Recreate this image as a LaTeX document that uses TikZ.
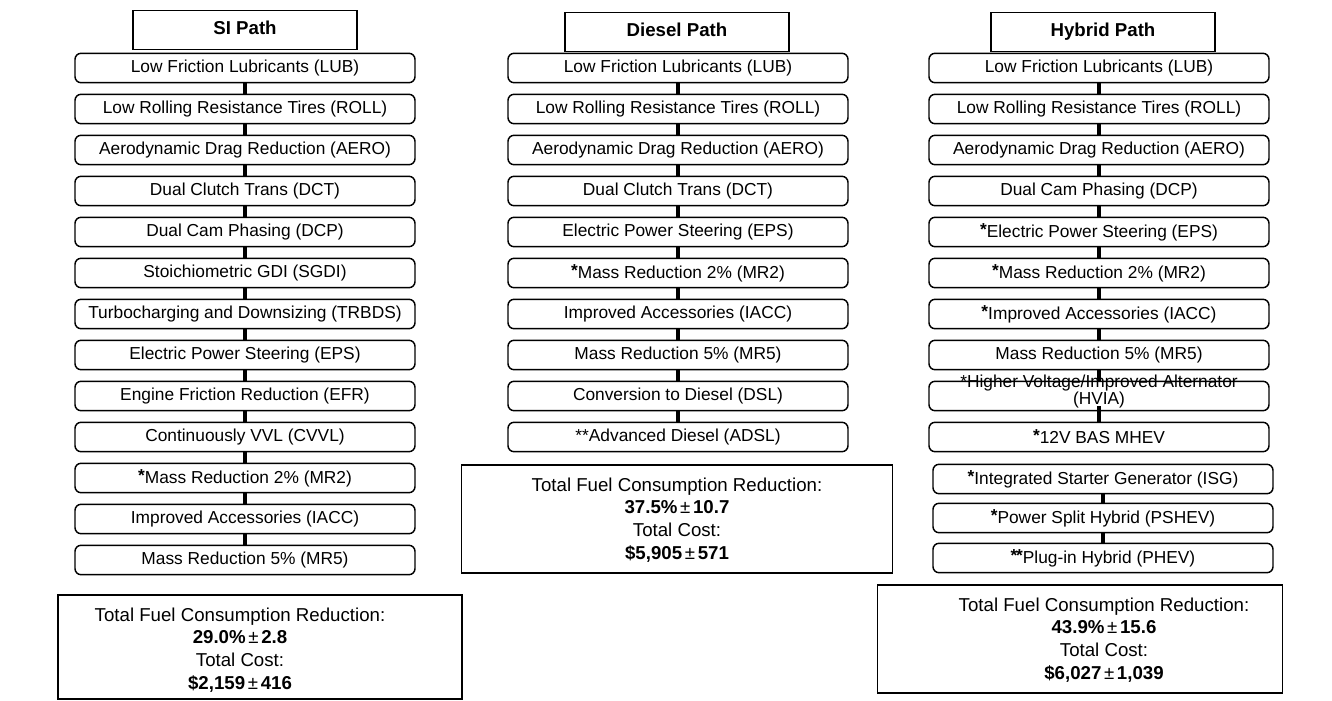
\documentclass[tikz,border=0pt]{standalone}
\usepackage{fontspec}
\setmainfont{Liberation Sans}
\usetikzlibrary{positioning}

\newcommand{\tstar}{\raisebox{1.5pt}{\bfseries *}}
\newcommand{\pmsign}{\kern2pt\textmd{±}\kern2pt}

\begin{document}
\begin{tikzpicture}[x=0.75pt, y=-0.75pt,
    tech/.style={rectangle, rounded corners=4.5pt, draw, line width=1.1pt,
                 minimum width=255pt, minimum height=22pt, inner sep=0pt,
                 font=\fontsize{13}{13}\selectfont},
    head/.style={rectangle, draw, line width=1.1pt, minimum width=168pt,
                 minimum height=29pt, text height=1.6ex, text depth=0.3ex,
                 font=\bfseries\fontsize{14}{16}\selectfont},
    totbox/.style={rectangle, draw, line width=1.1pt, inner sep=0pt},
    tottxt/.style={align=center, inner sep=0pt, font=\fontsize{14}{17}\selectfont},
    link/.style={line width=3pt}]
  \useasboundingbox (0,0) rectangle (1332,700);

  % headers
  \node[head] (sihead) at (245,30)  {SI Path};
  \node[head] (dshead) at (677,32)  {Diesel Path};
  \node[head] (hyhead) at (1103,32) {Hybrid Path};

  % SI path
  \node[tech] (silub)   at (245,68)  {Low Friction Lubricants (LUB)};
  \node[tech] (siroll)  at (245,109) {Low Rolling Resistance Tires (ROLL)};
  \node[tech] (siaero)  at (245,150) {Aerodynamic Drag Reduction (AERO)};
  \node[tech] (sidct)   at (245,191) {Dual Clutch Trans (DCT)};
  \node[tech] (sidcp)   at (245,232) {Dual Cam Phasing (DCP)};
  \node[tech] (sisgdi)  at (245,273) {Stoichiometric GDI (SGDI)};
  \node[tech] (sitrb)   at (245,314) {Turbocharging and Downsizing (TRBDS)};
  \node[tech] (sieps)   at (245,355) {Electric Power Steering (EPS)};
  \node[tech] (siefr)   at (245,396) {Engine Friction Reduction (EFR)};
  \node[tech] (sicvvl)  at (245,437) {Continuously VVL (CVVL)};
  \node[tech] (simrtwo) at (245,478) {\tstar Mass Reduction 2\% (MR2)};
  \node[tech] (siiacc)  at (245,519) {Improved Accessories (IACC)};
  \node[tech] (simrfive) at (245,560) {Mass Reduction 5\% (MR5)};

  % Diesel path
  \node[tech] (dslub)   at (678,68)  {Low Friction Lubricants (LUB)};
  \node[tech] (dsroll)  at (678,109) {Low Rolling Resistance Tires (ROLL)};
  \node[tech] (dsaero)  at (678,150) {Aerodynamic Drag Reduction (AERO)};
  \node[tech] (dsdct)   at (678,191) {Dual Clutch Trans (DCT)};
  \node[tech] (dseps)   at (678,232) {Electric Power Steering (EPS)};
  \node[tech] (dsmrtwo) at (678,273) {\tstar Mass Reduction 2\% (MR2)};
  \node[tech] (dsiacc)  at (678,314) {Improved Accessories (IACC)};
  \node[tech] (dsmrfive) at (678,355) {Mass Reduction 5\% (MR5)};
  \node[tech] (dsdsl)   at (678,396) {Conversion to Diesel (DSL)};
  \node[tech] (dsadsl)  at (678,437) {**Advanced Diesel (ADSL)};

  % Hybrid path
  \node[tech] (hylub)   at (1099,68)  {Low Friction Lubricants (LUB)};
  \node[tech] (hyroll)  at (1099,109) {Low Rolling Resistance Tires (ROLL)};
  \node[tech] (hyaero)  at (1099,150) {Aerodynamic Drag Reduction (AERO)};
  \node[tech] (hydcp)   at (1099,191) {Dual Cam Phasing (DCP)};
  \node[tech] (hyeps)   at (1099,232) {\tstar Electric Power Steering (EPS)};
  \node[tech] (hymrtwo) at (1099,273) {\tstar Mass Reduction 2\% (MR2)};
  \node[tech] (hyiacc)  at (1099,314) {\tstar Improved Accessories (IACC)};
  \node[tech] (hymrfive) at (1099,355) {Mass Reduction 5\% (MR5)};
  \node[tech] (hyhvia)  at (1099,396)
    {\smash{\begin{tabular}{@{}c@{}}*Higher Voltage/Improved Alternator\\[-0.5pt](HVIA)\end{tabular}}};
  \node[tech] (hymhev)  at (1099,437) {\tstar 12V BAS MHEV};
  \node[tech] (hyisg)   at (1103,479) {\tstar Integrated Starter Generator (ISG)};
  \node[tech] (hypshev) at (1103,518) {\tstar Power Split Hybrid (PSHEV)};
  \node[tech] (hyphev)  at (1103,558) {\tstar\kern-1pt\tstar Plug-in Hybrid (PHEV)};

  % links
  \draw[link] (silub) -- (siroll);
  \draw[link] (siroll) -- (siaero);
  \draw[link] (siaero) -- (sidct);
  \draw[link] (sidct) -- (sidcp);
  \draw[link] (sidcp) -- (sisgdi);
  \draw[link] (sisgdi) -- (sitrb);
  \draw[link] (sitrb) -- (sieps);
  \draw[link] (sieps) -- (siefr);
  \draw[link] (siefr) -- (sicvvl);
  \draw[link] (sicvvl) -- (simrtwo);
  \draw[link] (simrtwo) -- (siiacc);
  \draw[link] (siiacc) -- (simrfive);

  \draw[link] (dslub) -- (dsroll);
  \draw[link] (dsroll) -- (dsaero);
  \draw[link] (dsaero) -- (dsdct);
  \draw[link] (dsdct) -- (dseps);
  \draw[link] (dseps) -- (dsmrtwo);
  \draw[link] (dsmrtwo) -- (dsiacc);
  \draw[link] (dsiacc) -- (dsmrfive);
  \draw[link] (dsmrfive) -- (dsdsl);
  \draw[link] (dsdsl) -- (dsadsl);

  \draw[link] (hylub) -- (hyroll);
  \draw[link] (hyroll) -- (hyaero);
  \draw[link] (hyaero) -- (hydcp);
  \draw[link] (hydcp) -- (hyeps);
  \draw[link] (hyeps) -- (hymrtwo);
  \draw[link] (hymrtwo) -- (hyiacc);
  \draw[link] (hyiacc) -- (hymrfive);
  \draw[link] (hymrfive) -- (hyhvia);
  \draw[link] ([yshift=4pt]hyhvia.south) -- (hymhev);
  \draw[link] (hyisg) -- (hypshev);
  \draw[link] (hypshev) -- (hyphev);

  % totals
  \node[totbox, minimum width=303pt, minimum height=78pt] (sitot) at (260,647) {};
  \node[tottxt] (sisum) at (240,650) {Total Fuel Consumption Reduction:\\
    \textbf{29.0\%\pmsign2.8}\\ Total Cost:\\ \textbf{\$2,159\pmsign416}};
  \node[totbox, minimum width=323pt, minimum height=81pt] (dstot) at (677,519) {};
  \node[tottxt] (dssum) at (677,520) {Total Fuel Consumption Reduction:\\
    \textbf{37.5\%\pmsign10.7}\\ Total Cost:\\ \textbf{\$5,905\pmsign571}};
  \node[totbox, minimum width=304pt, minimum height=81pt] (hytot) at (1080,639) {};
  \node[tottxt] (hysum) at (1104,640) {Total Fuel Consumption Reduction:\\
    \textbf{43.9\%\pmsign15.6}\\ Total Cost:\\ \textbf{\$6,027\pmsign1,039}};
\end{tikzpicture}
\end{document}
